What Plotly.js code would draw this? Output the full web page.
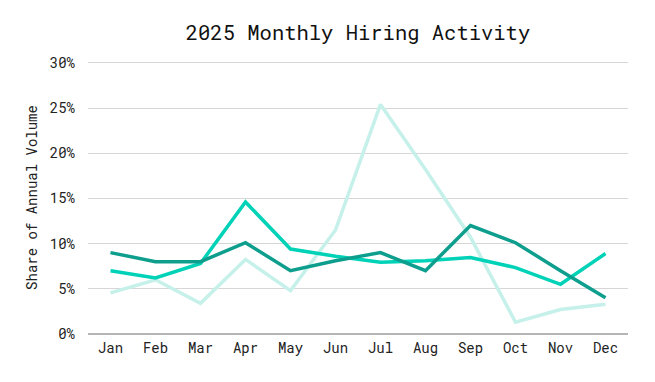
<!DOCTYPE html>
<html>
<head>
<meta charset="utf-8">
<script src="https://cdn.plot.ly/plotly-3.0.1.min.js"></script>
<style>html,body{margin:0;padding:0;background:#fff;}#chart{width:655px;height:382px;}</style>
</head>
<body>
<div id="chart"></div>
<script>
const months = ["Jan","Feb","Mar","Apr","May","Jun","Jul","Aug","Sep","Oct","Nov","Dec"];
const seriesDark = [9.0, 8.0, 8.0, 10.1, 7.0, 8.1, 9.0, 7.0, 12.0, 10.1, 7.0, 4.0];
const seriesBright = [7.0, 6.2, 7.8, 14.6, 9.4, 8.6, 7.95, 8.1, 8.45, 7.35, 5.5, 8.9];
const seriesLight = [4.55, 6.0, 3.4, 8.25, 4.8, 11.5, 25.4, 18.2, 10.7, 1.3, 2.7, 3.3];
const yTickVals = [0, 5, 10, 15, 20, 25, 30];
const yTickText = ["0%", "5%", "10%", "15%", "20%", "25%", "30%"];

const mono = "'Roboto Mono', 'DejaVu Sans Mono', monospace";
function line(y, color) {
  return {x: months, y: y, type: "scatter", mode: "lines",
          line: {color: color, width: 3.5}, hoverinfo: "skip", showlegend: false};
}
const data = [
  line(seriesLight, "#c6f0ea"),
  line(seriesBright, "#00d2b8"),
  line(seriesDark, "#0e9e8d")
];
const layout = {
  width: 655, height: 382,
  margin: {l: 88, r: 27, t: 61, b: 48},
  paper_bgcolor: "#fff", plot_bgcolor: "#fff",
  font: {family: mono, color: "#222", size: 14},
  title: {text: "2025 Monthly Hiring Activity", x: 0.5, xref: "paper", y: 0.915, yref: "container",
          yanchor: "middle", font: {family: mono, size: 20.5, color: "#111"}},
  xaxis: {type: "category", showgrid: false, showline: false, zeroline: false,
          ticks: "", tickfont: {size: 14, color: "#222"}, range: [-0.5, 11.5],
          ticklabelstandoff: 4},
  yaxis: {range: [0, 30.2], tickvals: yTickVals, ticktext: yTickText,
          showgrid: true, gridcolor: "#d6d6d6", gridwidth: 1,
          zeroline: true, zerolinecolor: "#b5b5b5", zerolinewidth: 2,
          showline: false, ticks: "", ticklen: 0, ticklabelstandoff: 12,
          tickfont: {size: 14, color: "#222"},
          title: {text: "Share of Annual Volume", font: {size: 14, color: "#222"}, standoff: 8}}
};
Plotly.newPlot("chart", data, layout, {displayModeBar: false, staticPlot: true});
</script>
</body>
</html>
